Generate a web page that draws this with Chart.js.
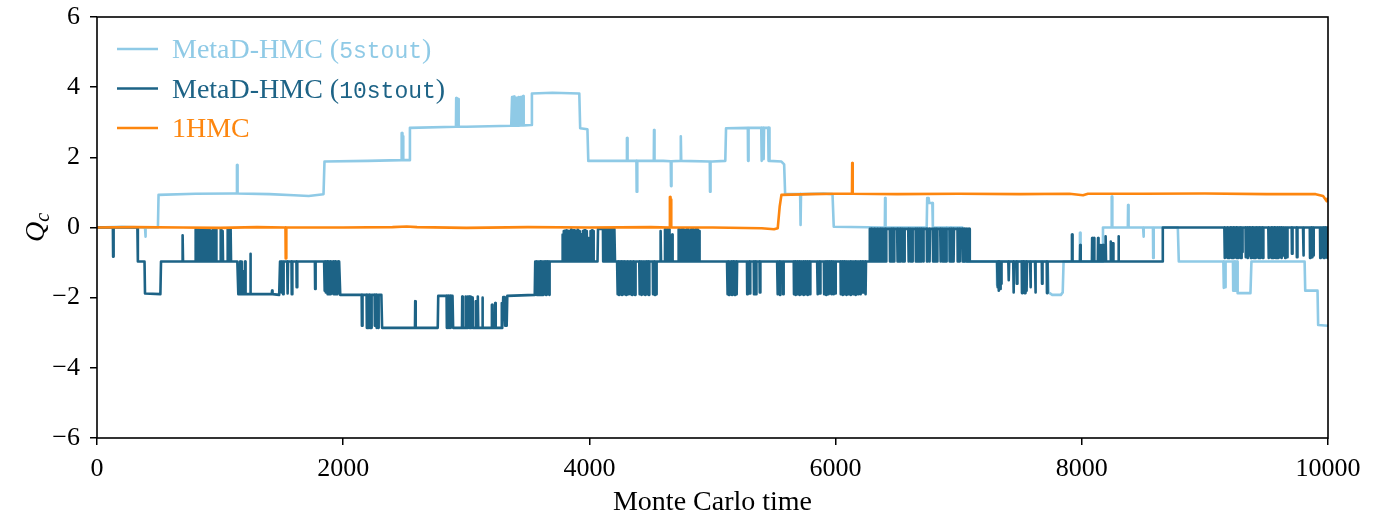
<!DOCTYPE html>
<html>
<head>
<meta charset="utf-8">
<script src="https://cdn.jsdelivr.net/npm/chart.js@4.4.1/dist/chart.umd.min.js"></script>
<style>
  html, body { margin: 0; padding: 0; background: #fff; }
  #chart { display: block; }
</style>
</head>
<body>
<canvas id="chart" width="1377" height="514"></canvas>
<script>
// series: [Monte Carlo time, Q_c] for the level path,
// [time, base, tip] for the short excursions on top of it
const seriesNames = ['MetaD-HMC (5stout)', 'MetaD-HMC (10stout)', '1HMC'];

const stout5Path = [
  [0, 0.0], [200, 0.02], [380, 0.0], [495, 0.0], [500, 0.93], [800, 0.96], [1100, 0.97], [1400, 0.95],
  [1600, 0.92], [1720, 0.9], [1840, 0.95], [1848, 1.88], [2200, 1.9], [2535, 1.92], [2542, 2.84],
  [3000, 2.87], [3365, 2.9], [3526, 2.92], [3533, 3.82], [3700, 3.84], [3918, 3.82], [3925, 2.83],
  [3984, 2.8], [3991, 1.9], [4600, 1.9], [5000, 1.88], [5104, 1.9], [5110, 2.83], [5460, 2.84],
  [5466, 1.9], [5560, 1.88], [5582, 1.8], [5590, 0.95], [5900, 0.97], [5975, 0.95], [5985, 0.02],
  [6740, 0.0], [6744, 0.84], [6756, 0.84], [6760, 0.7], [6786, 0.7], [6790, 0.0], [7030, 0.0],
  [7040, -0.97], [7722, -0.97], [7730, -1.85], [7760, -1.92], [7830, -1.92], [7845, -1.85],
  [7852, -0.97], [8165, -0.97], [8172, 0.0], [8780, 0.0], [8788, -0.97], [9262, -0.97], [9266, -1.87],
  [9370, -1.87], [9378, -0.97], [9810, -0.97], [9815, -1.8], [9915, -1.8], [9920, -2.78], [10000, -2.8]
];
const stout5Spikes = [
  [390, 0, -0.26], [1135, 0.97, 1.78], [2473, 1.92, 2.69], [2481, 1.92, 2.6],
  [2916, 2.87, 3.69], [2932, 2.87, 3.66],
  [3370, 2.9, 3.72], [3386, 2.9, 3.73], [3404, 2.9, 3.7], [3420, 2.9, 3.72], [3440, 2.91, 3.72], [3460, 2.91, 3.75],
  [4303, 1.9, 2.55], [4382, 1.9, 1.02], [4523, 1.9, 2.78], [4661, 1.89, 1.18], [4739, 1.9, 2.6], [4978, 1.88, 1.02],
  [5287, 2.84, 1.9], [5396, 2.84, 1.9], [5412, 2.84, 1.95], [5452, 2.84, 1.9],
  [5712, 0.95, 0.07], [6400, 0, 0.84], [6900, 0, -0.95], [6935, 0, -0.95],
  [7310, -0.97, -1.64], [7320, -0.97, -1.5], [7983, -0.97, -0.15],
  [8241, 0, 0.88], [8374, 0, 0.64], [8498, 0, -0.26], [8578, 0, -0.87],
  [9150, -0.97, -1.72], [9162, -0.97, -1.7], [9228, -0.97, -1.8], [9242, -0.97, -1.8]
];

const stout10Path = [
  [0, 0], [328, 0], [332, -0.97], [386, -0.97], [390, -1.88], [515, -1.9], [520, -0.97], [1140, -0.97],
  [1148, -1.9], [1480, -1.92], [1487, -0.97], [1970, -0.97], [1976, -1.92], [2310, -1.92], [2316, -2.86],
  [2768, -2.86], [2772, -1.95], [2888, -1.95], [2893, -2.86], [3296, -2.86], [3300, -1.98], [3312, -1.98],
  [3316, -2.8], [3328, -2.8], [3333, -1.95], [3556, -1.92], [3560, -0.97], [4066, -0.97], [4070, -0.04],
  [4204, -0.04], [4208, -0.97], [6274, -0.97], [6278, -0.04], [7086, -0.04], [7090, -0.97], [8654, -0.97],
  [8658, 0], [9994, 0], [9996, -0.87], [10000, -0.87]
];
const stout10Spikes = [
  [129, 0, -0.83], [692, -0.97, -0.22],
  [798, -0.97, -0.05], [808, -0.97, -0.05], [818, -0.97, -0.05], [828, -0.97, -0.05], [838, -0.97, -0.05],
  [848, -0.97, -0.05], [858, -0.97, -0.05], [868, -0.97, -0.05], [878, -0.97, -0.05], [888, -0.97, -0.05],
  [898, -0.97, -0.05], [908, -0.97, -0.05], [916, -0.97, -0.1], [938, -0.97, -0.05], [963, -0.97, -0.05],
  [1003, -0.97, -0.05], [1017, -0.97, -0.1], [1057, -0.97, -0.05], [1072, -0.97, -0.05], [1082, -0.97, -0.05],
  [1160, -1.9, -0.97], [1172, -1.9, -0.97], [1185, -1.9, -1.25], [1200, -1.9, -0.97], [1243, -1.9, -0.75], [1420, -1.9, -1.8],
  [1495, -0.97, -1.85], [1510, -0.97, -1.9], [1545, -0.97, -1.88], [1580, -0.97, -1.9], [1620, -0.97, -1.7], [1770, -0.97, -1.75],
  [1845, -0.97, -1.8], [1857, -0.97, -1.85], [1870, -0.97, -1.9], [1882, -0.97, -1.9], [1895, -0.97, -1.9],
  [1908, -0.97, -1.88], [1920, -0.97, -1.9], [1935, -0.97, -1.9], [1948, -0.97, -1.9], [1960, -0.97, -1.85],
  [2150, -1.92, -2.8], [2190, -1.92, -2.86], [2200, -1.92, -2.86], [2212, -1.92, -2.86], [2225, -1.92, -2.86],
  [2255, -1.92, -2.8], [2268, -1.92, -2.86], [2282, -1.92, -2.86],
  [2583, -2.86, -2.1], [2840, -1.95, -2.86], [2855, -1.95, -2.86], [2870, -1.95, -2.86],
  [2965, -2.86, -1.97], [2990, -2.86, -1.97], [3008, -2.86, -1.97], [3020, -2.86, -1.97], [3032, -2.86, -1.97],
  [3046, -2.86, -2.0], [3075, -2.86, -2.1], [3090, -2.86, -1.97], [3128, -2.86, -2.0],
  [3206, -2.86, -2.2], [3233, -2.86, -2.15], [3285, -2.86, -2.15],
  [3570, -0.97, -1.92], [3580, -0.97, -1.92], [3590, -0.97, -1.92], [3600, -0.97, -1.92], [3610, -0.97, -1.92],
  [3620, -0.97, -1.92], [3632, -0.97, -1.9], [3645, -0.97, -1.92], [3660, -0.97, -1.9], [3672, -0.97, -1.92],
  [3778, -0.97, -0.2], [3790, -0.97, -0.1], [3800, -0.97, -0.1], [3812, -0.97, -0.08], [3822, -0.97, -0.1],
  [3835, -0.97, -0.1], [3848, -0.97, -0.06], [3860, -0.97, -0.1], [3872, -0.97, -0.08], [3885, -0.97, -0.1],
  [3900, -0.97, -0.06], [3915, -0.97, -0.1], [3930, -0.97, -0.2], [3945, -0.97, -0.1], [3960, -0.97, -0.08],
  [3975, -0.97, -0.1], [3990, -0.97, -0.3], [4005, -0.97, -0.1], [4020, -0.97, -0.08], [4030, -0.97, -0.1],
  [4110, -0.04, -0.97], [4122, -0.04, -0.97], [4135, -0.04, -0.97], [4148, -0.04, -0.97], [4160, -0.04, -0.97],
  [4172, -0.04, -0.97], [4185, -0.04, -0.97], [4195, -0.04, -0.97],
  [4225, -0.97, -1.9], [4237, -0.97, -1.92], [4249, -0.97, -1.9], [4261, -0.97, -1.92], [4273, -0.97, -1.9],
  [4285, -0.97, -1.9], [4297, -0.97, -1.92], [4309, -0.97, -1.9], [4321, -0.97, -1.88], [4333, -0.97, -1.9],
  [4345, -0.97, -1.92], [4357, -0.97, -1.9], [4369, -0.97, -1.92],
  [4405, -0.97, -1.9], [4420, -0.97, -1.92], [4435, -0.97, -1.9], [4450, -0.97, -1.92], [4465, -0.97, -1.9],
  [4480, -0.97, -1.92], [4515, -0.97, -1.9], [4528, -0.97, -1.92], [4540, -0.97, -1.9],
  [4575, -0.97, -0.1], [4612, -0.97, -0.05], [4630, -0.97, -0.05], [4645, -0.97, -0.05], [4670, -0.97, -0.2],
  [4723, -0.97, -0.05], [4735, -0.97, -0.1], [4748, -0.97, -0.05], [4760, -0.97, -0.05], [4772, -0.97, -0.1],
  [4785, -0.97, -0.05], [4798, -0.97, -0.05], [4812, -0.97, -0.1], [4825, -0.97, -0.05], [4838, -0.97, -0.05],
  [4850, -0.97, -0.1], [4862, -0.97, -0.05], [4875, -0.97, -0.05], [4888, -0.97, -0.1],
  [5118, -0.97, -1.9], [5130, -0.97, -1.92], [5142, -0.97, -1.9], [5155, -0.97, -1.92], [5168, -0.97, -1.9],
  [5180, -0.97, -1.92], [5193, -0.97, -1.9], [5280, -0.97, -1.9], [5300, -0.97, -1.88],
  [5335, -0.97, -1.9], [5350, -0.97, -1.9], [5382, -0.97, -1.85],
  [5525, -0.97, -1.9], [5545, -0.97, -1.92], [5572, -0.97, -1.9],
  [5660, -0.97, -1.9], [5672, -0.97, -1.92], [5690, -0.97, -1.9], [5705, -0.97, -1.92], [5720, -0.97, -1.9],
  [5738, -0.97, -1.92], [5755, -0.97, -1.9], [5770, -0.97, -1.92], [5788, -0.97, -1.9],
  [5850, -0.97, -1.9], [5870, -0.97, -1.88], [5905, -0.97, -1.9], [5920, -0.97, -1.92], [5935, -0.97, -1.9],
  [5950, -0.97, -1.88], [5965, -0.97, -1.9], [5980, -0.97, -1.9], [5995, -0.97, -1.88],
  [6040, -0.97, -1.9], [6055, -0.97, -1.92], [6070, -0.97, -1.9], [6085, -0.97, -1.92], [6100, -0.97, -1.9],
  [6120, -0.97, -1.92], [6140, -0.97, -1.9], [6160, -0.97, -1.92], [6180, -0.97, -1.9], [6200, -0.97, -1.9],
  [6220, -0.97, -1.85], [6240, -0.97, -1.9],
  [6290, -0.04, -0.97], [6302, -0.04, -0.97], [6315, -0.04, -0.97], [6328, -0.04, -0.97], [6340, -0.04, -0.97],
  [6352, -0.04, -0.97], [6365, -0.04, -0.97], [6378, -0.04, -0.97], [6392, -0.04, -0.97], [6405, -0.04, -0.97],
  [6440, -0.04, -0.97], [6455, -0.04, -0.97], [6470, -0.04, -0.97], [6500, -0.04, -0.97], [6512, -0.04, -0.97],
  [6525, -0.04, -0.97], [6540, -0.04, -0.97], [6555, -0.04, -0.97], [6590, -0.04, -0.97], [6605, -0.04, -0.97],
  [6620, -0.04, -0.97], [6650, -0.04, -0.97], [6665, -0.04, -0.97], [6680, -0.04, -0.97], [6695, -0.04, -0.97],
  [6710, -0.04, -0.97], [6740, -0.04, -0.97], [6760, -0.04, -0.97], [6790, -0.04, -0.97], [6805, -0.04, -0.97],
  [6820, -0.04, -0.97], [6850, -0.04, -0.97], [6865, -0.04, -0.97], [6880, -0.04, -0.97], [6895, -0.04, -0.97],
  [6925, -0.04, -0.97], [6940, -0.04, -0.97], [6955, -0.04, -0.97], [6990, -0.04, -0.97], [7005, -0.04, -0.97],
  [7030, -0.04, -0.97], [7045, -0.04, -0.97], [7060, -0.04, -0.97], [7075, -0.04, -0.97],
  [7312, -0.97, -1.7], [7322, -0.97, -1.8], [7332, -0.97, -1.75], [7342, -0.97, -1.6], [7403, -0.97, -1.5],
  [7443, -0.97, -1.85], [7470, -0.97, -1.6], [7512, -0.97, -1.87], [7524, -0.97, -1.85], [7536, -0.97, -1.87],
  [7548, -0.97, -1.8], [7580, -0.97, -1.7], [7620, -0.97, -1.85], [7675, -0.97, -1.6], [7715, -0.97, -1.87],
  [7918, -0.97, -0.2], [7985, -0.97, -0.5], [8082, -0.97, -0.3], [8095, -0.97, -0.3], [8130, -0.97, -0.3],
  [8150, -0.97, -0.5], [8168, -0.97, -0.5], [8190, -0.97, -0.25], [8232, -0.97, -0.4], [8250, -0.97, -0.45],
  [8295, -0.97, -0.25],
  [9158, 0, -0.87], [9170, 0, -0.85], [9182, 0, -0.87], [9194, 0, -0.87], [9206, 0, -0.85], [9218, 0, -0.87],
  [9230, 0, -0.87], [9242, 0, -0.85], [9254, 0, -0.87], [9266, 0, -0.87], [9278, 0, -0.85], [9290, 0, -0.87],
  [9300, 0, -0.7], [9330, 0, -0.85], [9345, 0, -0.87], [9360, 0, -0.8],
  [9372, 0, -0.87], [9384, 0, -0.85], [9396, 0, -0.87], [9408, 0, -0.87], [9420, 0, -0.85], [9432, 0, -0.87],
  [9444, 0, -0.87], [9456, 0, -0.85], [9468, 0, -0.87],
  [9515, 0, -0.87], [9527, 0, -0.85], [9539, 0, -0.87], [9551, 0, -0.87], [9563, 0, -0.85], [9575, 0, -0.87],
  [9590, 0, -0.87], [9605, 0, -0.85], [9620, 0, -0.87], [9635, 0, -0.8], [9650, 0, -0.87], [9665, 0, -0.85],
  [9705, 0, -0.75], [9745, 0, -0.85], [9797, 0, -0.8], [9852, 0, -0.87], [9866, 0, -0.85], [9879, 0, -0.8],
  [9935, 0, -0.87], [9950, 0, -0.85], [9965, 0, -0.87], [9978, 0, -0.85]
];

const hmcPath = [
  [0, 0.0], [300, 0.01], [700, 0.0], [1000, -0.01], [1300, 0.01], [2000, 0.0], [2400, 0.01], [2516, 0.03],
  [2600, 0.01], [3000, -0.01], [3500, 0.01], [4000, 0.0], [4500, 0.01], [5000, 0.0], [5400, -0.02],
  [5500, -0.05], [5530, -0.02], [5546, 0.6], [5560, 0.93], [5800, 0.95], [6000, 0.96], [6500, 0.95],
  [7000, 0.96], [7500, 0.95], [7900, 0.96], [8010, 0.92], [8050, 0.96], [8500, 0.96], [9000, 0.97],
  [9500, 0.95], [9900, 0.95], [9960, 0.9], [9990, 0.75], [10000, 0.85]
];
const hmcSpikes = [[1531, 0.0, -0.88], [4652, 0.0, 0.87], [4658, 0.0, 0.8], [6133, 0.96, 1.84]];

const xTicks = [0, 2000, 4000, 6000, 8000, 10000];
const yTicks = [-6, -4, -2, 0, 2, 4, 6];

const colors = { stout5: '#8fcae6', stout10: '#1d6386', hmc: '#fd860f' };

function buildTrace(path, spikes) {
  const pts = path.map(([t, q]) => ({ x: t, y: q }));
  spikes.forEach(([t, base, tip]) => {
    pts.push({ x: t, y: base }, { x: t + 2, y: tip }, { x: t + 5, y: tip }, { x: t + 7, y: base });
  });
  pts.sort((a, b) => a.x - b.x);
  return pts;
}

const SERIF = '"Liberation Serif", "DejaVu Serif", serif';
const MONO = '"Liberation Mono", "DejaVu Sans Mono", monospace';

// frame, in-plot legend and axis labels
const decorations = {
  id: 'decorations',
  afterDatasetsDraw(chart) {
    const { ctx, chartArea: a } = chart;
    ctx.save();
    ctx.strokeStyle = '#000';
    ctx.lineWidth = 1.6;
    ctx.strokeRect(a.left, a.top, a.right - a.left, a.bottom - a.top);

    const entries = [
      { color: colors.stout5, parts: [['MetaD-HMC (', SERIF], ['5stout', MONO], [')', SERIF]] },
      { color: colors.stout10, parts: [['MetaD-HMC (', SERIF], ['10stout', MONO], [')', SERIF]] },
      { color: colors.hmc, parts: [['1HMC', SERIF]] }
    ];
    entries.forEach((e, i) => {
      const ly = 49 + i * 39.5;
      ctx.strokeStyle = e.color;
      ctx.lineWidth = 2.6;
      ctx.beginPath();
      ctx.moveTo(117, ly);
      ctx.lineTo(158, ly);
      ctx.stroke();
      ctx.fillStyle = e.color;
      ctx.textBaseline = 'alphabetic';
      ctx.textAlign = 'left';
      let x = 172;
      e.parts.forEach(([txt, fam]) => {
        ctx.font = (fam === MONO ? '23px ' : '28px ') + fam;
        ctx.fillText(txt, x, ly + 9);
        x += ctx.measureText(txt).width;
      });
    });

    // x axis title
    ctx.fillStyle = '#000';
    ctx.font = '28px ' + SERIF;
    ctx.textAlign = 'center';
    ctx.fillText('Monte Carlo time', (a.left + a.right) / 2, 510);

    // y axis title Q_c
    ctx.save();
    ctx.translate(36, (a.top + a.bottom) / 2);
    ctx.rotate(-Math.PI / 2);
    ctx.font = 'italic 28px ' + SERIF;
    const wq = ctx.measureText('Q').width;
    ctx.font = 'italic 20px ' + SERIF;
    const wc = ctx.measureText('c').width;
    ctx.textAlign = 'left';
    ctx.font = 'italic 28px ' + SERIF;
    ctx.fillText('Q', -(wq + wc) / 2, 8);
    ctx.font = 'italic 20px ' + SERIF;
    ctx.fillText('c', -(wq + wc) / 2 + wq, 13);
    ctx.restore();

    ctx.restore();
  }
};

const tickFont = { family: SERIF, size: 26 };
const fmt = v => (v < 0 ? '\u2212' + Math.abs(v) : String(v));

new Chart(document.getElementById('chart'), {
  type: 'line',
  data: {
    datasets: [
      { label: seriesNames[2], data: buildTrace(hmcPath, hmcSpikes), borderColor: colors.hmc },
      { label: seriesNames[1], data: buildTrace(stout10Path, stout10Spikes), borderColor: colors.stout10 },
      { label: seriesNames[0], data: buildTrace(stout5Path, stout5Spikes), borderColor: colors.stout5 }
    ]
  },
  options: {
    responsive: false,
    animation: false,
    parsing: false,
    layout: { padding: { left: 0, right: 49, top: 17, bottom: 0 } },
    elements: {
      point: { radius: 0 },
      line: { borderWidth: 2.6, tension: 0, borderJoinStyle: 'round', fill: false }
    },
    plugins: { legend: { display: false }, tooltip: { enabled: false } },
    scales: {
      x: {
        type: 'linear', min: xTicks[0], max: xTicks[xTicks.length - 1],
        afterFit(s) { s.height = 76; s.paddingLeft = 0; s.paddingRight = 0; },
        afterBuildTicks(s) { s.ticks = xTicks.map(v => ({ value: v })); },
        ticks: { color: '#000', font: tickFont, padding: 9, maxRotation: 0, autoSkip: false, callback: fmt },
        grid: { drawOnChartArea: false, color: '#000', lineWidth: 1.5, tickLength: 7 },
        border: { display: false }
      },
      y: {
        type: 'linear', min: yTicks[0], max: yTicks[yTicks.length - 1],
        afterFit(s) { s.width = 97; s.paddingTop = 0; s.paddingBottom = 0; },
        afterBuildTicks(s) { s.ticks = yTicks.map(v => ({ value: v })); },
        ticks: { color: '#000', font: tickFont, padding: 10, autoSkip: false, callback: fmt },
        grid: { drawOnChartArea: false, color: '#000', lineWidth: 1.5, tickLength: 7 },
        border: { display: false }
      }
    }
  },
  plugins: [decorations]
});
</script>
</body>
</html>
